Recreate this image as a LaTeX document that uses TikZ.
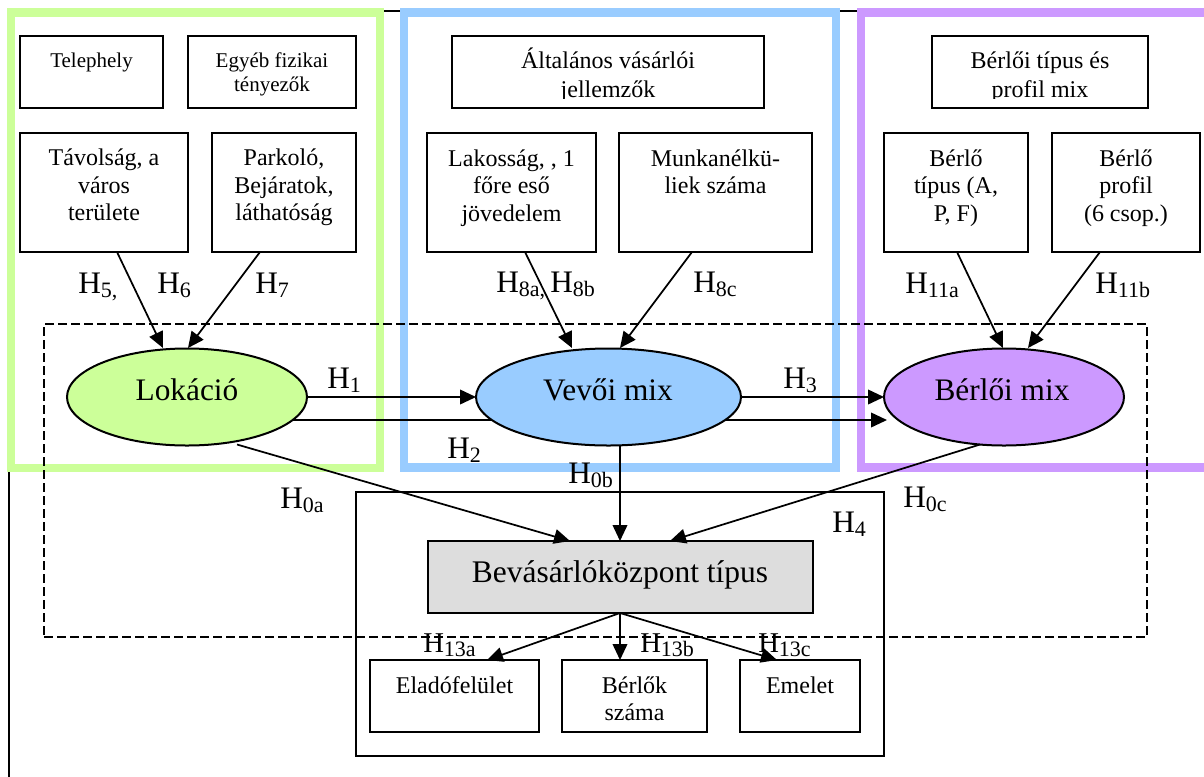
\documentclass[tikz,border=0pt]{standalone}
\usepackage{fontspec}
\setmainfont{Liberation Serif}
\usetikzlibrary{arrows.meta,shapes.geometric,calc,fit}
\definecolor{lokc}{HTML}{CCFF99}
\definecolor{vevc}{HTML}{99CCFF}
\definecolor{berc}{HTML}{CC99FF}
\definecolor{bevc}{HTML}{DDDDDD}
\newcommand{\Hsb}[1]{H\raisebox{-3pt}{\fontsize{16.5}{16.5}\selectfont #1}}
\tikzset{
  box/.style={draw, line width=1.5pt, inner sep=0pt, outer sep=0pt},
  txt/.style={inner sep=0pt, align=center, anchor=north},
  f16/.style={font=\fontsize{15.75}{18}\selectfont},
  f18/.style={font=\fontsize{18}{20.6}\selectfont},
  f18w/.style={font=\fontsize{18}{21.75}\selectfont},
  f18b/.style={font=\fontsize{18}{20.25}\selectfont},
  big/.style={inner sep=0pt, anchor=base, font=\fontsize{23.5}{23.5}\selectfont},
  oval/.style={ellipse, draw, line width=1.5pt, inner sep=0pt, outer sep=0pt, minimum height=72.75pt},
  arr/.style={line width=1.3pt, -{Triangle[length=12pt,width=11pt]}},
  hl/.style={inner sep=0pt, anchor=base west, font=\fontsize{23.5}{23.5}\selectfont},
  hs/.style={inner sep=0pt, anchor=base west, font=\fontsize{21.5}{21.5}\selectfont},
  frame/.style={line width=6.5pt},
  dash box/.style={draw, line width=1.4pt, dash pattern=on 6.5pt off 3.25pt, inner sep=0pt, outer sep=0pt},
}
\begin{document}
\begin{tikzpicture}[x=0.75pt, y=-0.75pt]
\useasboundingbox (0,0) rectangle (1204,776);
% page frame
\draw[line width=1.4pt] (9,800) -- (9,11) -- (1220,11);
% coloured frames
\draw[frame, lokc] (11,12.5) rectangle (380,468);
\draw[frame, vevc] (404,12.5) rectangle (836,467.5);
\draw[frame, berc] (1220,12.5) -- (861,12.5) -- (861,467.5) -- (1220,467.5);
% dashed region and H4 box
\node[dash box, fit={(44,324) (1147,637)}] (dbox) {};
\node[box, fit={(356,492) (884,756)}] (h4box) {};
% ellipse centres (coordinates for H2 line)
\coordinate (lokc0) at (187,397);
\coordinate (berc0) at (1004,397);
% H2 line below the Vevoi ellipse
\draw[arr] ($(lokc0)+(106,23)$) -- ($(berc0)+(-117,23)$);
% ellipses
\node[oval, fill=lokc, minimum width=180pt] (lok) at (lokc0) {};
\node[oval, fill=vevc, minimum width=198.75pt] (vev) at (608.5,397) {};
\node[oval, fill=berc, minimum width=180pt] (ber) at (berc0) {};
\node[big] (lok-t) at (187,400) {Lokáció};
\node[big] (vev-t) at (608,400) {Vevői mix};
\node[big] (ber-t) at (1002,400) {Bérlői mix};
% top boxes
\node[box, fit={(20,36) (163,108)}] (tel) {};
\node[txt, f16] (tel-t) at (tel.north) {\rule{0pt}{23.25pt}Telephely};
\node[box, fit={(188,36) (356,108)}] (egy) {};
\node[txt, f16] (egy-t) at (egy.north) {\rule{0pt}{23.25pt}Egyéb fizikai\\tényezők};
\node[box, fit={(452,36) (764,108)}] (alt) {};
\begin{scope}
\clip (452,36) rectangle (764,98.5);
\node[txt, f18w] (alt-t) at (alt.north) {\rule{0pt}{24pt}Általános vásárlói\\jellemzők};
\end{scope}
\node[box, fit={(932,36) (1148,108)}] (bmix) {};
\begin{scope}
\clip (932,36) rectangle (1148,98.5);
\node[txt, f18w] (bmix-t) at (bmix.north) {\rule{0pt}{24pt}Bérlői típus és\\profil mix};
\end{scope}
% second row boxes
\node[box, fit={(20,133) (188,252)}] (tav) {};
\node[txt, f18] (tav-t) at (tav.north) {\rule{0pt}{24.2pt}Távolság, a\\város\\területe};
\node[box, fit={(212,133) (356,252)}] (park) {};
\node[txt, f18] (park-t) at (park.north) {\rule{0pt}{24.2pt}Parkoló,\\Bejáratok,\\láthatóság};
\node[box, fit={(427,133) (596,252)}] (lak) {};
\node[txt, f18] (lak-t) at (lak.north) {\rule{0pt}{24.6pt}Lakosság, , 1\\főre eső\\jövedelem};
\node[box, fit={(619,133) (812,252)}] (mun) {};
\node[txt, f18] (mun-t) at (mun.north) {\rule{0pt}{24.6pt}Munkanélkü-\\liek száma};
\node[box, fit={(884,133) (1028,252)}] (btip) {};
\node[txt, f18] (btip-t) at (btip.north) {\rule{0pt}{24.6pt}Bérlő\\típus (A,\\P, F)};
\node[box, fit={(1052,133) (1200,252)}] (bprof) {};
\node[txt, f18] (bprof-t) at (bprof.north) {\rule{0pt}{24.6pt}Bérlő\\profil\\(6 csop.)};
% central box and bottom boxes
\node[box, fill=bevc, fit={(428,541) (813,613)}] (bev) {};
\node[inner sep=0pt, anchor=base, font=\fontsize{23.6}{23.6}\selectfont] (bev-t) at (620,582) {Bevásárlóközpont típus};
\node[box, fit={(370,660) (539,732)}] (ela) {};
\node[txt, f18b] (ela-t) at (ela.north) {\rule{0pt}{24.75pt}Eladófelület};
\node[box, fit={(562,660) (707,732)}] (bsz) {};
\node[txt, f18b] (bsz-t) at (bsz.north) {\rule{0pt}{24.75pt}Bérlők\\száma};
\node[box, fit={(740,660) (860,732)}] (eme) {};
\node[txt, f18b] (eme-t) at (eme.north) {\rule{0pt}{24.75pt}Emelet};
% connectors into ellipses
\draw[arr] ($(tav.south)+(13,0)$) -- ($(lok.north)+(-24,-0.5)$);
\draw[arr] ($(park.south)+(-24,0)$) -- ($(lok.north)+(1,-0.5)$);
\draw[arr] ($(lak.south)+(13.5,0)$) -- ($(vev.north)+(-36.5,-0.5)$);
\draw[arr] ($(mun.south)+(-23.5,0)$) -- ($(vev.north)+(11.5,-0.5)$);
\draw[arr] ($(btip.south)+(1,0)$) -- ($(ber.north)+(-1,-0.5)$);
\draw[arr] ($(bprof.south)+(-26,0)$) -- ($(ber.north)+(24,-0.5)$);
\draw[arr] (lok.east) -- (vev.west);
\draw[arr] (vev.east) -- (ber.west);
% connectors into the central box
\draw[arr] ($(lok.south)+(50,-1)$) -- ($(bev.north)+(-50.5,0)$);
\draw[arr] ($(vev.south)+(11.5,0)$) -- ($(bev.north)+(-0.5,0)$);
\draw[arr] ($(ber.south)+(-24,-1)$) -- ($(bev.north)+(49.5,0)$);
% connectors out of the central box
\draw[arr] ($(bev.south)+(-0.5,0)$) -- ($(ela.north)+(32.5,0)$);
\draw[arr] ($(bev.south)+(-0.5,0)$) -- ($(bsz.north)+(-14.5,0)$);
\draw[arr] ($(bev.south)+(-0.5,0)$) -- ($(eme.north)+(-23,0)$);
% hypothesis labels
\node[hl] (l5) at (78,293) {\Hsb{5,}};
\node[hl] (l6) at (157,293) {\Hsb{6}};
\node[hl] (l7) at (255,293) {\Hsb{7}};
\node[hl] (l8a) at (496,292) {\Hsb{8a,}};
\node[hl] (l8b) at (550,292) {\Hsb{8b}};
\node[hl] (l8c) at (693,292) {\Hsb{8c}};
\node[hl] (l11a) at (905,293) {\Hsb{11a}};
\node[hl] (l11b) at (1095,293) {\Hsb{11b}};
\node[hl] (l1) at (327,388) {\Hsb{1}};
\node[hl] (l3) at (783,388) {\Hsb{3}};
\node[hl] (l2) at (447,458) {\Hsb{2}};
\node[hl] (l0b) at (568,483) {\Hsb{0b}};
\node[hl] (l0a) at (280,508) {\Hsb{0a}};
\node[hl] (l0c) at (903,507) {\Hsb{0c}};
\node[hl] (l4) at (832,532) {\Hsb{4}};
\node[hs] (l13a) at (423,652) {\Hsb{13a}};
\node[hs] (l13b) at (640,652) {\Hsb{13b}};
\node[hs] (l13c) at (758,652) {\Hsb{13c}};
\end{tikzpicture}
\end{document}
